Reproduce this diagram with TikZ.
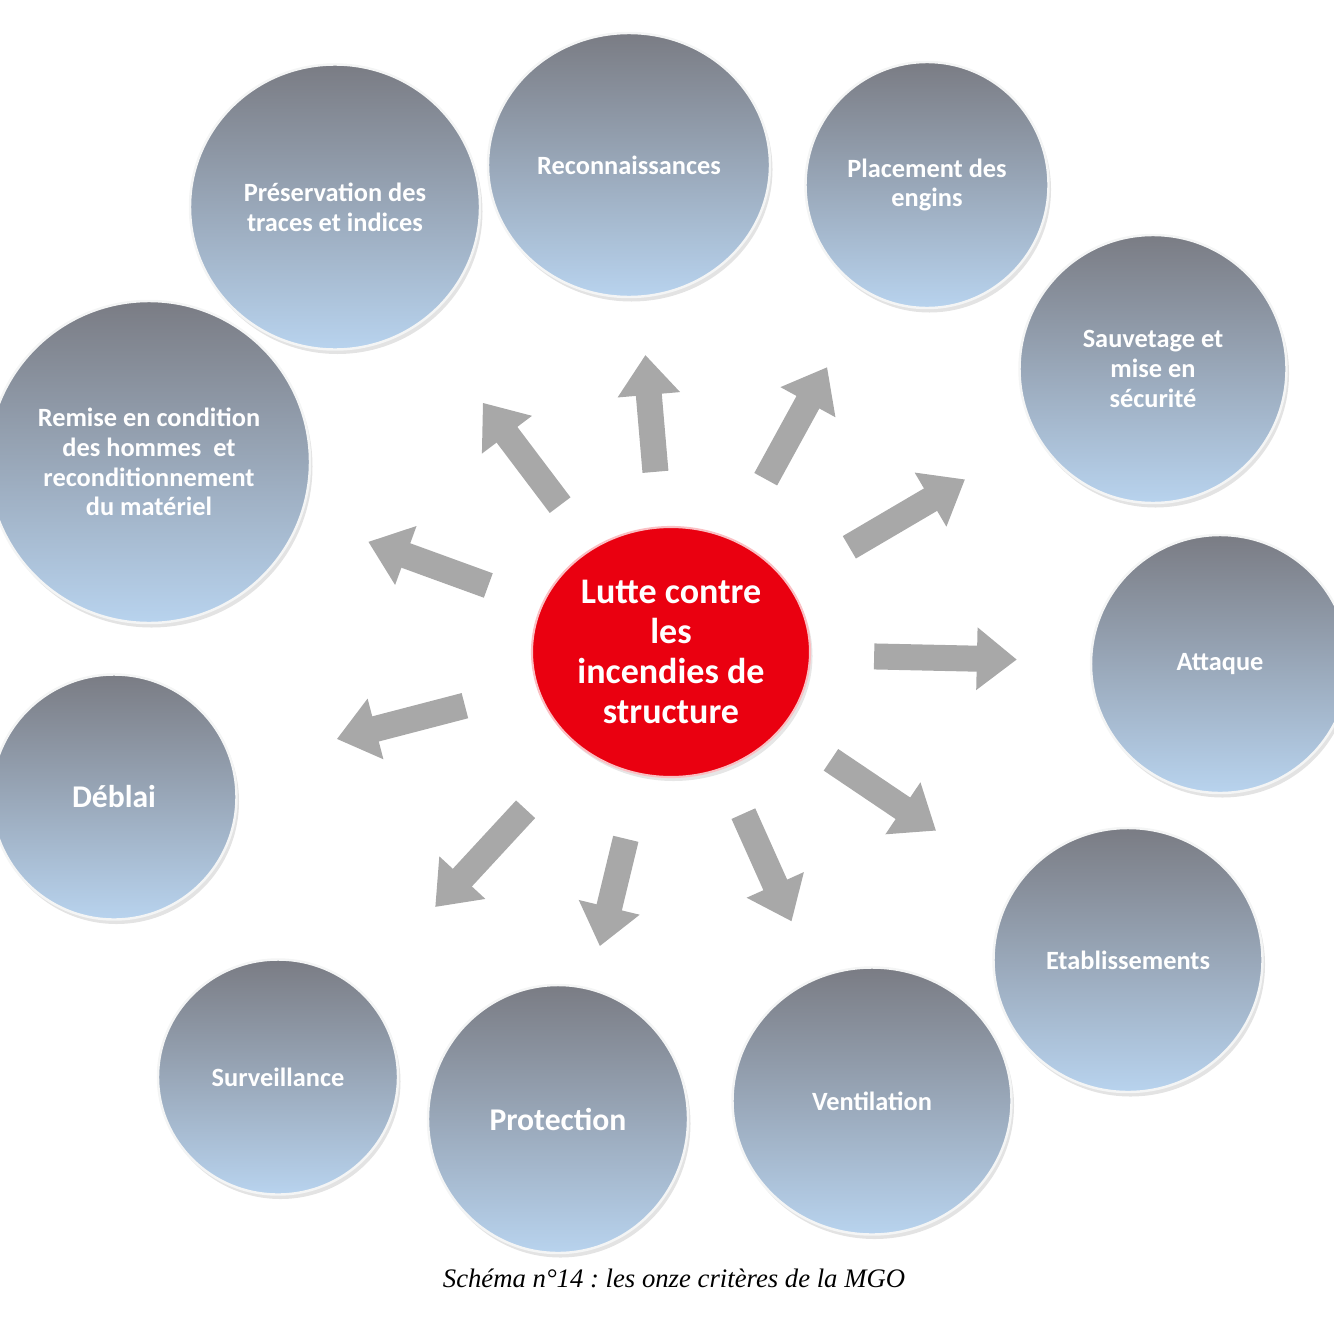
\documentclass[tikz,border=0pt]{standalone}
\usepackage{fontspec}
\setmainfont{Carlito}
\newfontfamily\capfont{Liberation Serif}
\usetikzlibrary{arrows.meta,shapes.geometric,shadows,calc}
\frenchspacing

\definecolor{bubbletop}{RGB}{122,124,132}
\definecolor{bubblebot}{RGB}{184,211,238}
\definecolor{hubred}{RGB}{234,0,16}
\definecolor{arrowgray}{RGB}{168,168,168}

\tikzset{
  bubble/.style={ellipse, inner sep=0pt, align=center, text=white,
    font=\bfseries\fontsize{15}{17}\selectfont,
    top color=bubbletop, bottom color=bubblebot,
    draw=white!92!bubbletop, line width=1.4pt,
    drop shadow={opacity=0.22, shadow xshift=0.5mm, shadow yshift=-0.9mm}},
  hubball/.style={ellipse, inner sep=0pt, align=center, text=white,
    font=\bfseries\fontsize{20.5}{22.8}\selectfont,
    fill=hubred, draw=white!75!hubred, line width=1.2pt,
    drop shadow={opacity=0.2, shadow xshift=0.5mm, shadow yshift=-0.8mm}},
  flow/.style={-{Triangle[width=12mm,length=8mm]}, line width=5.2mm, draw=arrowgray}
}

\begin{document}
\begin{tikzpicture}[x=0.2mm, y=-0.2mm]
  \useasboundingbox (0,0) rectangle (1334,1334);

  % centre
  \node[hubball, minimum width=55.6mm, minimum height=50mm] (hub) at (671,652)
    {Lutte contre\\les\\incendies de\\structure};

  % the eleven criteria
  \node[bubble, minimum width=58mm, minimum height=57mm] (prev) at (335,207)
    {Préservation des\\traces et indices};
  \node[bubble, minimum width=56.4mm, minimum height=52.8mm] (reco) at (629,165)
    {Reconnaissances};
  \node[bubble, minimum width=48.6mm, minimum height=49.2mm] (plac) at (927,185)
    {Placement des\\engins};
  \node[bubble, minimum width=53.4mm, minimum height=53.6mm] (sauv) at (1153,369)
    {Sauvetage et\\mise en\\sécurité};
  \node[bubble, minimum width=51.6mm, minimum height=51.6mm] (att) at (1220,664)
    {Attaque};
  \node[bubble, minimum width=53.8mm, minimum height=52.8mm] (etab) at (1128,960)
    {Etablissements};
  \node[bubble, minimum width=55.8mm, minimum height=53.4mm] (vent) at (872,1101)
    {Ventilation};
  \node[bubble, minimum width=52mm, minimum height=53.6mm,
        font=\bfseries\fontsize{18}{20}\selectfont] (prot) at (558,1119)
    {Protection};
  \node[bubble, minimum width=48mm, minimum height=47mm] (surv) at (278,1077)
    {Surveillance};
  \node[bubble, minimum width=49mm, minimum height=49mm,
        font=\bfseries\fontsize{18}{20}\selectfont] (debl) at (114,797)
    {Déblai};
  \node[bubble, minimum width=64.4mm, minimum height=64.4mm] (rem) at (149,462)
    {Remise en condition\\des hommes\ \ et\\reconditionnement\\du matériel};

  % arrows from the centre
  \foreach \n/\a/\b in {prev/0.33/0.56, reco/0.37/0.61, plac/0.37/0.61,
      sauv/0.37/0.61, att/0.37/0.63, etab/0.35/0.58, vent/0.36/0.60,
      prot/0.40/0.63, surv/0.37/0.60, debl/0.37/0.60, rem/0.35/0.58}
    \draw[flow] ($(hub.center)!\a!(\n.center)$) -- ($(hub.center)!\b!(\n.center)$);

  % caption
  \node[font=\capfont\itshape\fontsize{15.2}{17}\selectfont, text=black] (cap) at (674,1278)
    {Schéma n°14 : les onze critères de la MGO};
\end{tikzpicture}
\end{document}
